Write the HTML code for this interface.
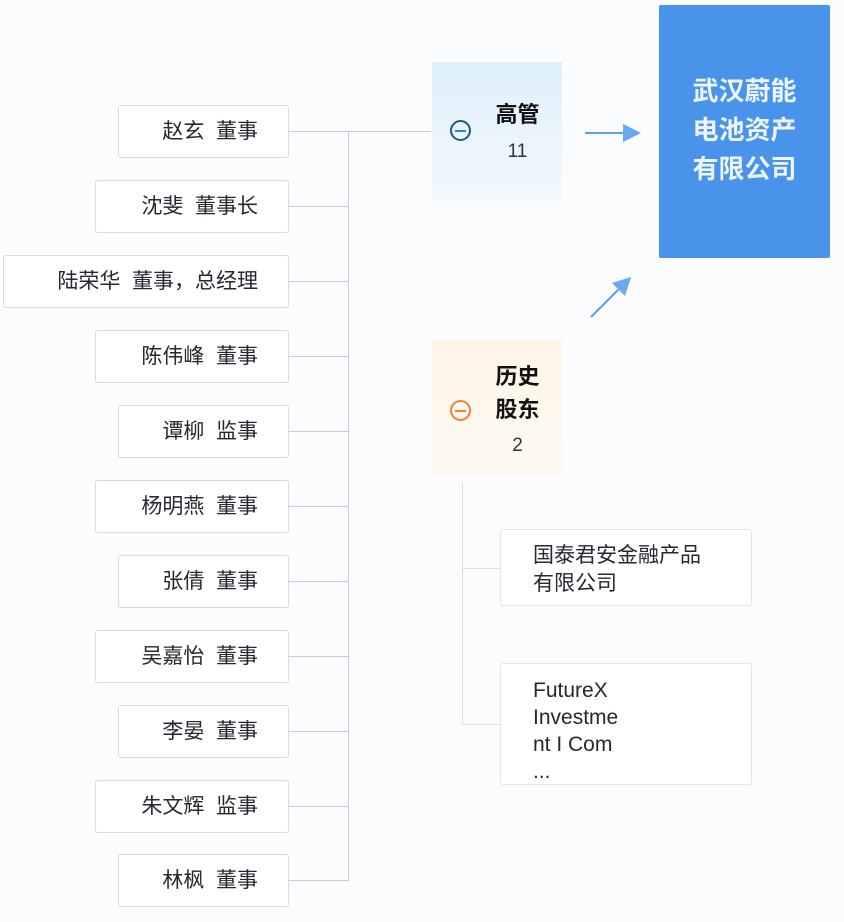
<!DOCTYPE html>
<html><head><meta charset="utf-8"><style>
html,body{margin:0;padding:0}
body{width:844px;height:922px;background:#fbfcfe;position:relative;overflow:hidden;font-family:"Liberation Sans","Noto Sans CJK SC",sans-serif;}
.p{position:absolute;right:555px;height:53px;border:1px solid #d5dbe4;border-radius:3px;background:#fff;box-sizing:border-box;font-size:21px;color:#2a2530;line-height:51px;text-align:right;padding-right:30px;}
.l{position:absolute;background:#c5ced8}
.s{position:absolute;left:500px;width:252px;border:1px solid #e4e6ea;border-radius:3px;background:#fff;box-sizing:border-box;font-size:21px;color:#2a2530;padding-left:32px;}
</style></head><body>
<div class="p" style="left:118px;top:105px">赵玄&nbsp; 董事</div>
<div class="p" style="left:95px;top:180px">沈斐&nbsp; 董事长</div>
<div class="p" style="left:3px;top:255px">陆荣华&nbsp; 董事，总经理</div>
<div class="p" style="left:95px;top:330px">陈伟峰&nbsp; 董事</div>
<div class="p" style="left:118px;top:405px">谭柳&nbsp; 监事</div>
<div class="p" style="left:95px;top:480px">杨明燕&nbsp; 董事</div>
<div class="p" style="left:118px;top:555px">张倩&nbsp; 董事</div>
<div class="p" style="left:95px;top:630px">吴嘉怡&nbsp; 董事</div>
<div class="p" style="left:118px;top:705px">李晏&nbsp; 董事</div>
<div class="p" style="left:95px;top:780px">朱文辉&nbsp; 监事</div>
<div class="p" style="left:118px;top:854px">林枫&nbsp; 董事</div>
<div class="l" style="left:348px;top:131px;width:1px;height:750px"></div>
<div class="l" style="left:289px;top:131px;width:142px;height:1px"></div>
<div class="l" style="left:289px;top:206px;width:60px;height:1px"></div>
<div class="l" style="left:289px;top:281px;width:60px;height:1px"></div>
<div class="l" style="left:289px;top:356px;width:60px;height:1px"></div>
<div class="l" style="left:289px;top:431px;width:60px;height:1px"></div>
<div class="l" style="left:289px;top:506px;width:60px;height:1px"></div>
<div class="l" style="left:289px;top:581px;width:60px;height:1px"></div>
<div class="l" style="left:289px;top:656px;width:60px;height:1px"></div>
<div class="l" style="left:289px;top:731px;width:60px;height:1px"></div>
<div class="l" style="left:289px;top:806px;width:60px;height:1px"></div>
<div class="l" style="left:289px;top:880px;width:60px;height:1px"></div>

<div style="position:absolute;left:432px;top:62px;width:130px;height:138px;background:linear-gradient(180deg,#dff0fa,#f2f8fd);"></div>
<div style="position:absolute;left:450px;top:120px;width:21px;height:21px;border:2px solid #1f5a7a;border-radius:50%;box-sizing:border-box"></div>
<div style="position:absolute;left:455px;top:130px;width:11px;height:2px;background:#1f8fb0"></div>
<div style="position:absolute;left:480px;top:97px;width:75px;text-align:center;font-weight:bold;font-size:22px;color:#111">高管</div>
<div style="position:absolute;left:480px;top:141px;width:75px;text-align:center;font-size:19px;color:#333">11</div>

<div style="position:absolute;left:432px;top:340px;width:130px;height:135px;background:linear-gradient(180deg,#fdf5e6,#fdf9f2);"></div>
<div style="position:absolute;left:450px;top:400px;width:21px;height:21px;border:2px solid #e8823a;border-radius:50%;box-sizing:border-box"></div>
<div style="position:absolute;left:455px;top:410px;width:11px;height:2px;background:#e8823a"></div>
<div style="position:absolute;left:480px;top:360px;width:75px;text-align:center;font-weight:bold;font-size:22px;line-height:33px;color:#111">历史<br>股东</div>
<div style="position:absolute;left:480px;top:435px;width:75px;text-align:center;font-size:19px;color:#333">2</div>

<div style="position:absolute;left:659px;top:5px;width:171px;height:253px;background:#4a93ea;border-radius:2px;"></div>
<div style="position:absolute;left:659px;top:72px;width:171px;text-align:center;font-weight:bold;font-size:26px;line-height:39px;color:#eef4fc;letter-spacing:0px">武汉蔚能<br>电池资产<br>有限公司</div>

<svg style="position:absolute;left:0;top:0" width="844" height="922">
<line x1="585" y1="133" x2="625" y2="133" stroke="#5d9fe6" stroke-width="2"/>
<polygon points="623,124 641,133 623,142" fill="#6aa9ef"/>
<line x1="591" y1="317" x2="622" y2="286" stroke="#5d9fe6" stroke-width="2"/>
<polygon points="631,277 612,283 625,296" fill="#6aa9ef"/>
</svg>

<div style="position:absolute;left:462px;top:482px;width:1px;height:242px;background:#e6dcc8"></div>
<div style="position:absolute;left:462px;top:568px;width:38px;height:1px;background:#e6dcc8"></div>
<div style="position:absolute;left:462px;top:724px;width:38px;height:1px;background:#e6dcc8"></div>
<div class="s" style="top:529px;height:77px;padding-top:12px;line-height:28px">国泰君安金融产品<br>有限公司</div>
<div class="s" style="top:663px;height:122px;padding-top:13px;line-height:27px;font-size:21px">FutureX<br>Investme<br>nt I Com<br>...</div>
</body></html>
